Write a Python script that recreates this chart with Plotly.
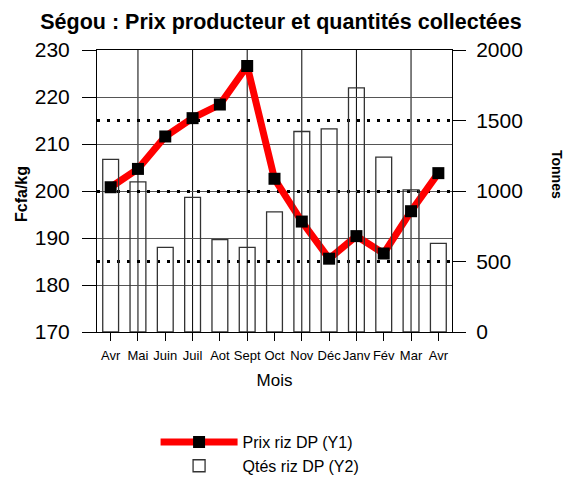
import plotly.graph_objects as go

months = ["Avr", "Mai", "Juin", "Juil", "Aot", "Sept", "Oct", "Nov", "Déc", "Janv", "Fév", "Mar", "Avr"]
prix = [200.8, 204.7, 211.6, 215.5, 218.4, 226.6, 202.6, 193.5, 185.6, 190.4, 186.7, 195.7, 203.8]
qtes = [1225, 1065, 600, 955, 655, 600, 852, 1422, 1440, 1732, 1240, 1008, 628]
left_ticks = [170, 180, 190, 200, 210, 220, 230]
right_ticks = [0, 500, 1000, 1500, 2000]

xpos = list(range(len(months)))
grid_x = xpos[1:-1:2]

FONT = "Liberation Sans, Arial, sans-serif"
# the page body adds an 8px offset; size the figure so it fills the window
W, H = 564, 478

fig = go.Figure()
fig.add_trace(go.Bar(
    x=xpos, y=qtes, name="Qtés riz DP (Y2)", xaxis="x", yaxis="y2",
    width=0.58, marker=dict(color="rgba(255,255,255,0)", line=dict(color="#333333", width=1.3)),
))
fig.add_trace(go.Scatter(
    x=xpos, y=prix, name="Prix riz DP (Y1)", xaxis="x", yaxis="y",
    mode="lines+markers", line=dict(color="#ff0000", width=7),
    marker=dict(symbol="square", size=12, color="black"),
))

for gx in grid_x:
    fig.add_shape(type="line", xref="x", yref="paper", x0=gx, x1=gx, y0=0, y1=1,
                  line=dict(color="black", width=1), layer="below")

fig.update_layout(
    template="none",
    width=W, height=H,
    margin=dict(l=89, r=120, t=42, b=154, autoexpand=False),
    paper_bgcolor="white", plot_bgcolor="white",
    font=dict(family=FONT, color="black"),
    title=dict(text="<b>Ségou : Prix producteur et quantités collectées</b>",
               font=dict(size=21.5, family=FONT), x=273 / W, xanchor="center",
               xref="container", y=1 - 13 / H, yref="container", yanchor="middle"),
    xaxis=dict(range=[-0.5, 12.5], tickmode="array", tickvals=xpos, ticktext=months,
               tickangle=0, ticks="outside", ticklen=8, tickcolor="black",
               tickfont=dict(size=13), ticklabelstandoff=3,
               showgrid=False, zeroline=False, automargin=False,
               showline=True, linecolor="black", linewidth=1, mirror=True,
               title=dict(text="Mois", font=dict(size=17), standoff=12)),
    yaxis=dict(range=[170, 230], tickmode="array", tickvals=left_ticks,
               ticks="outside", ticklen=14, tickcolor="black", tickfont=dict(size=21),
               ticklabelstandoff=8, automargin=False,
               showgrid=True, gridcolor="#555555", gridwidth=1.2, zeroline=False,
               showline=True, linecolor="black", linewidth=1),
    yaxis2=dict(range=[0, 2000], tickmode="array", tickvals=right_ticks,
                overlaying="y", side="right", anchor="x",
                ticks="outside", ticklen=13, tickcolor="black", tickfont=dict(size=21),
                ticklabelstandoff=6, automargin=False,
                showgrid=True, gridcolor="black", gridwidth=2.5, griddash="3px,7px",
                zeroline=False, showline=True, linecolor="black", linewidth=1),
    legend=dict(x=0.165, xanchor="left", y=-0.33, yanchor="top", orientation="v",
                itemwidth=77, font=dict(size=16), traceorder="reversed",
                bgcolor="rgba(0,0,0,0)"),
    showlegend=True,
)

fig.add_annotation(text="<b>Fcfa/kg</b>", xref="paper", yref="paper",
                   x=(21 - 97) / 355, y=(332 - 194) / 282, textangle=-90,
                   xanchor="center", yanchor="middle",
                   showarrow=False, font=dict(size=16, family=FONT))
fig.add_annotation(text="<b>Tonnes</b>", xref="paper", yref="paper",
                   x=(557 - 97) / 355, y=(332 - 174) / 282, textangle=90,
                   xanchor="center", yanchor="middle",
                   showarrow=False, font=dict(size=14, family=FONT))

fig.write_html("out.html")
